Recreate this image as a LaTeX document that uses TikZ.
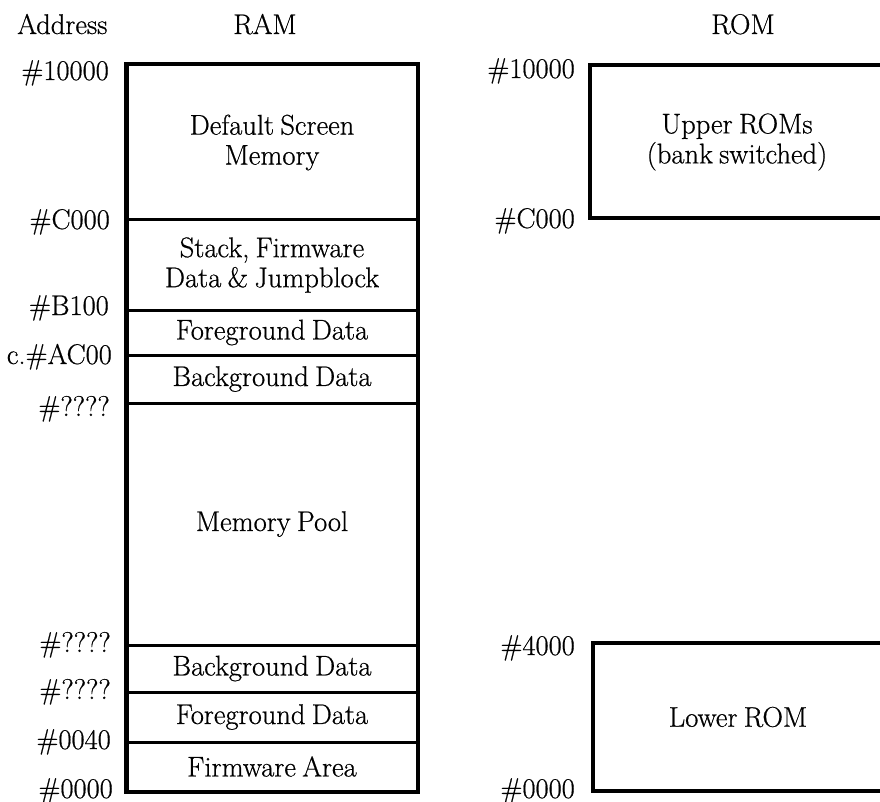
\documentclass[tikz,border=0pt]{standalone}
\usepackage{fontspec}
\setmainfont{Latin Modern Roman}[FakeBold=0.6]
\newcommand\diagfont{\fontsize{28.5}{30}\selectfont\spaceskip=0.22em plus 0.1em\relax}
\begin{document}
\begin{tikzpicture}[x=1pt,y=-1pt,
  fnt/.style={font=\diagfont},
  txt/.style={fnt, inner sep=0pt},
  cell/.style={fnt, draw, line width=3pt, minimum width=290pt, inner sep=0pt, align=center},
  addr/.style={fnt, inner sep=0pt, anchor=base east},
  frame/.style={line width=3.5pt}]
\useasboundingbox (0,0) rectangle (880,802);
% headings
\node[txt, anchor=base west] (haddr) at (17,34) {Address};
\node[txt, anchor=base] (hram) at (265,34) {RAM};
\node[txt, anchor=base] (hrom) at (743,34) {ROM};
% RAM cells
\node[cell, minimum height=155pt] (screen) at (272,142.5) {Default Screen\\Memory};
\node[cell, minimum height=90pt] (stack) at (272,265) {Stack, Firmware\\Data \& Jumpblock};
\node[cell, minimum height=45pt] (fgA) at (272,332.5) {Foreground Data};
\node[cell, minimum height=48pt] (bgA) at (272,379) {Background Data};
\node[cell, minimum height=242pt] (pool) at (272,524) {Memory Pool};
\node[cell, minimum height=47pt] (bgB) at (272,668.5) {Background Data};
\node[cell, minimum height=50pt] (fgB) at (272,717) {Foreground Data};
\node[cell, minimum height=49pt] (fw) at (272,766.5) {Firmware Area};
\draw[frame] (screen.north west) rectangle (fw.south east);
% RAM addresses
\node[addr] (a1) at (109,80) {\#10000};
\node[addr] (a2) at (110,229) {\#C000};
\node[addr] (a3) at (109,315) {\#B100};
\node[addr] (a4) at (112,364) {c.\#AC00};
\node[addr] (a5) at (110,416) {\#????};
\node[addr] (a6) at (111,652) {\#????};
\node[addr] (a7) at (111,699) {\#????};
\node[addr] (a8) at (111,749) {\#0040};
\node[addr] (a9) at (113,798) {\#0000};
% ROM boxes
\coordinate (u1) at (882,65);
\coordinate (u2) at (590,65);
\coordinate (u3) at (590,218);
\coordinate (u4) at (882,218);
\draw[frame] (u1) -- (u2) -- (u3) -- (u4);
\node[txt, align=center] (upper) at (737,142) {Upper ROMs\\(bank switched)};
\coordinate (l1) at (882,643);
\coordinate (l2) at (593,643);
\coordinate (l3) at (593,791);
\coordinate (l4) at (882,791);
\draw[frame] (l1) -- (l2) -- (l3) -- (l4);
\node[txt] (lower) at (738,717) {Lower ROM};
% ROM addresses
\node[addr] (r1) at (575,78) {\#10000};
\node[addr] (r2) at (575,228) {\#C000};
\node[addr] (r3) at (575,655) {\#4000};
\node[addr] (r4) at (575,798) {\#0000};
\end{tikzpicture}
\end{document}
